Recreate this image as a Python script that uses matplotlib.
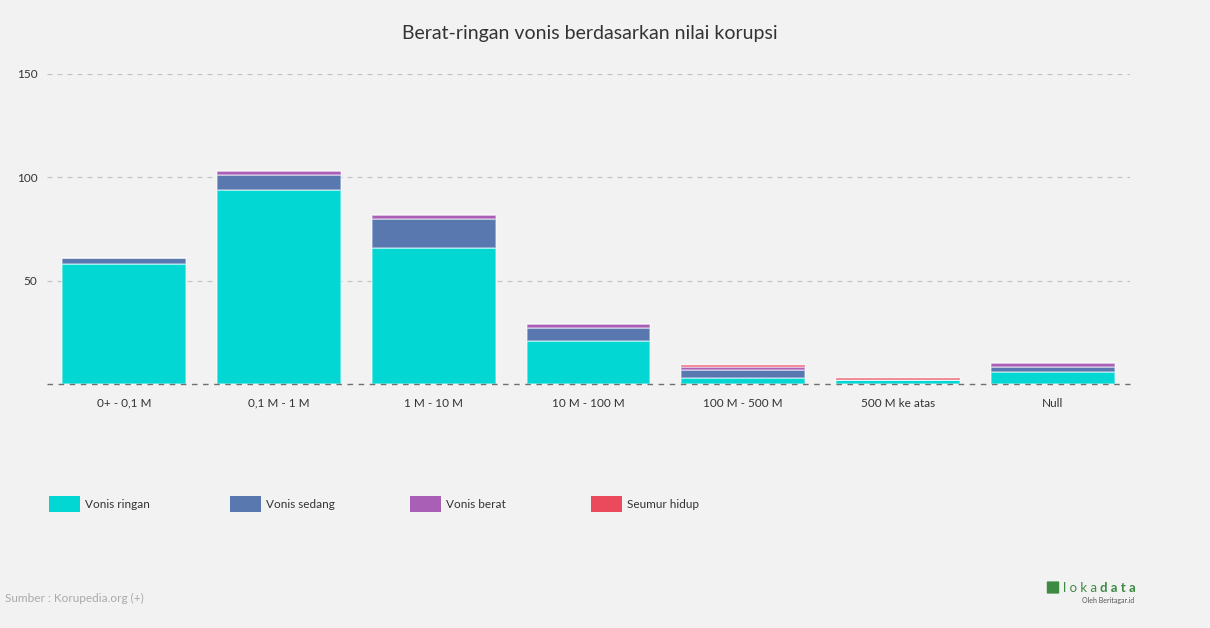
import matplotlib.pyplot as plt
from matplotlib.patches import Rectangle, FancyBboxPatch
import numpy as np

plt.rcParams['font.family'] = ['Lato', 'DejaVu Sans']

categories = ["0+ - 0,1 M", "0,1 M - 1 M", "1 M - 10 M", "10 M - 100 M",
              "100 M - 500 M", "500 M ke atas", "Null"]
series_names = ["Vonis ringan", "Vonis sedang", "Vonis berat", "Seumur hidup"]
ringan = [58, 94, 66, 21, 3, 2, 6]
sedang = [3, 7, 14, 6, 4, 0, 2]
berat = [0, 2, 2, 2, 1, 0, 2]
seumur = [0, 0, 0, 0, 1, 1, 0]
colors = ["#03d7d3", "#5a78b0", "#a95fb5", "#ea4a5c"]
yticks = [0, 50, 100, 150]

bg = "#f2f2f2"
fig = plt.figure(figsize=(12.1, 6.28), dpi=100, facecolor=bg)
W, H = 1210, 628
ax = fig.add_axes([47 / W, 1 - 384 / H, (1130 - 47) / W, (384 - 74) / H])
ax.set_facecolor(bg)

x = np.arange(len(categories))
bottom = np.zeros(len(categories))
for vals, col in zip([ringan, sedang, berat, seumur], colors):
    v = np.array(vals, dtype=float)
    ax.bar(x, v, width=0.8, bottom=bottom, color=col,
           edgecolor=(1, 1, 1, 0.45), linewidth=1.2, zorder=3)
    bottom += v

ax.set_xlim(-0.5, len(categories) - 0.5)
ax.set_ylim(0, 150)
ax.set_yticks(yticks)
ax.set_yticklabels(["", "50", "100", "150"])
for y in yticks[1:]:
    ax.axhline(y, color="#c4c4c4", linestyle=(0, (4, 4)), linewidth=0.9, zorder=1)
ax.axhline(0, color="#707070", linestyle=(0, (4, 4)), linewidth=1.0, zorder=4,
           clip_on=False)

for s in ax.spines.values():
    s.set_visible(False)
ax.tick_params(axis="y", length=0, pad=7, labelsize=8.5, labelcolor="#333333")
ax.tick_params(axis="x", length=0, pad=10, labelsize=8.5, labelcolor="#333333")
ax.set_xticks(x)
ax.set_xticklabels(categories)

fig.text(590 / W, 1 - 33 / H, "Berat-ringan vonis berdasarkan nilai korupsi",
         ha="center", va="center", fontsize=14, color="#333333")

# legend
leg_x = [49, 230, 410, 591]
for lx, name, col in zip(leg_x, series_names, colors):
    fig.patches.append(Rectangle((lx / W, 1 - 512 / H), 31 / W, 16 / H,
                                 transform=fig.transFigure, facecolor=col,
                                 edgecolor="none"))
    fig.text((lx + 36) / W, 1 - 504 / H, name, ha="left", va="center",
             fontsize=8.5, color="#333333")

fig.text(5 / W, 1 - 598 / H, "Sumber : Korupedia.org (+)", ha="left",
         va="center", fontsize=8.5, color="#aaaaaa")

# logo
fig.patches.append(FancyBboxPatch((1048 / W, 1 - 593 / H), 10 / W, 11 / H,
                                  boxstyle="round,pad=0.001",
                                  transform=fig.transFigure,
                                  facecolor="#3d8a43", edgecolor="none"))
fig.text(1097 / W, 1 - 588 / H, "l o k a", ha="right", va="center",
         fontsize=9.5, color="#3d8a43")
fig.text(1100 / W, 1 - 588 / H, "d a t a", ha="left", va="center",
         fontsize=9.5, color="#3d8a43", fontweight="bold")
fig.text(1134 / W, 1 - 600 / H, "Oleh Beritagar.id", ha="right", va="center",
         fontsize=5, color="#555555")

fig.savefig("out.png", dpi=100, facecolor=bg)
